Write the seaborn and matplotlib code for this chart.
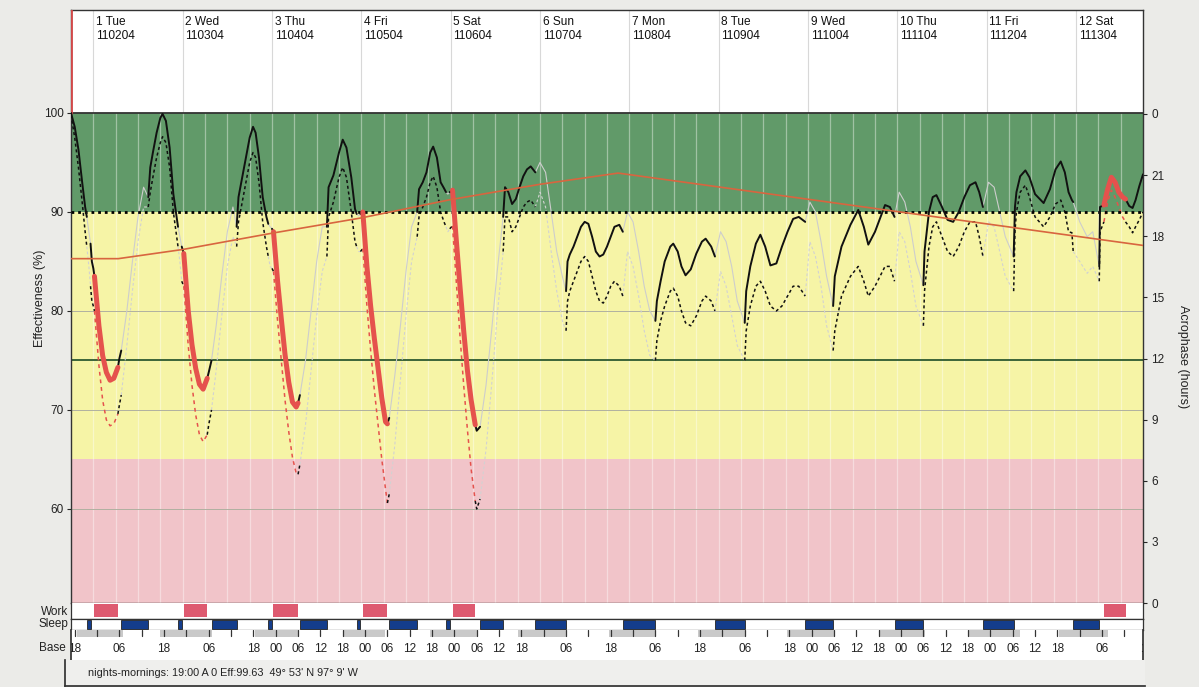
import numpy as np
import matplotlib
matplotlib.use("Agg")
import matplotlib.pyplot as plt
import seaborn as sns

sns.set_theme(style="white")
plt.rcParams['font.family'] = ['Liberation Sans', 'DejaVu Sans']

# ---------------- data ----------------
day_names = ["1 Tue", "2 Wed", "3 Thu", "4 Fri", "5 Sat", "6 Sun", "7 Mon",
             "8 Tue", "9 Wed", "10 Thu", "11 Fri", "12 Sat"]
day_codes = ["110204", "110304", "110404", "110504", "110604", "110704", "110804",
             "110904", "111004", "111104", "111204", "111304"]

hours = [
    -6, -5, -4, -3, -2.2, -1.75, -1.2, -0.75, -0.4, 0, 0.3, 1.5, 2.5, 3.5, 4.5, 5.5, 6.6, 7, 7.5, 9,
    10.5, 12, 13.5, 14.75, 15.3, 16, 17, 18, 18.6, 19.5, 20.5, 21.5, 22.75, 23.25, 23.75, 24.3,
    25.5, 26.5, 27.5, 28.5, 29.5, 30.6, 31, 31.75, 33, 34.5, 36, 37.5, 38.5, 39, 40, 41, 42, 42.9,
    43.6, 44.5, 45.5, 46.5, 47, 47.5, 48, 48.4,
    49.5, 50.5, 51.5, 52.5, 53.5, 54.5, 55, 55.5, 57, 58.5, 60, 61.5, 62.75, 63.2, 64.5, 66, 67, 68,
    69.3, 70.3, 70.75, 71.25, 71.75, 72.4,
    73.5, 74.5, 75.5, 76.5, 77.5, 78.5, 79, 79.5, 81, 82.5, 84, 85.5, 87, 87.5, 88.5, 89.5, 90.5,
    91.3, 92.3, 93.3, 94.2, 94.75, 95.25, 95.75, 96.5,
    97.5, 98.5, 99.5, 100.5, 101.5, 102.6, 103, 103.9, 105.5, 107, 108.5, 110.1, 110.6, 111.5,
    112.5, 113.5, 114.5, 115.5, 116.5, 117.5, 118.75,
    120, 121.5, 123, 124.5, 126, 127, 127.4, 128, 129, 130, 131, 132, 133, 134, 135, 136, 137, 138,
    139, 140, 141.3, 142.25,
    143.5, 145, 146.5, 148, 149.5, 151, 151.4, 152.4, 153.5, 155, 155.8, 157, 158, 159.1, 160.5,
    162, 163.5, 164.5, 166, 167,
    168.5, 170, 171.5, 173, 175, 175.4, 176.5, 178, 179.2, 180.5, 181.9, 183.5, 185, 186.5, 188,
    189.5, 191.25,
    192.5, 194, 195.5, 197, 198.75, 199.2, 201, 203.4, 205.5, 207, 208.2, 210, 212.7, 214, 215.25,
    216.5, 218, 219.5, 221, 223, 223.3, 224.5, 225.5, 226.5, 228, 229.5, 231, 232.5, 234, 235.5,
    237, 238, 239,
    240.5, 242, 243.5, 245, 247.25, 247.6, 248, 249, 250.4, 251.5, 253, 255.3, 257, 258.5, 259.9,
    261, 262, 262.9, 263.25,
    265, 267, 268.5, 270.25, 270.45, 271.5, 272.5, 273.5, 274.5, 275.5, 276.5, 277.3, 278.3, 279.2,
    280, 281, 282,
]
effectiveness = [
    100, 98.6, 96.3, 93, 90.5, 89.5, 88, 86.8, 85, 84.3, 83.5, 78.5, 75.5, 73.8, 73, 73.2, 74.3, 75.2, 76, 80,
    85, 89.5, 92.5, 91.5, 94.5, 96, 98, 99.5, 99.9, 99.2, 96.5, 91.8, 88.5, 87.5, 86.5, 85.8,
    80, 76.6, 74.2, 72.6, 72.1, 73.2, 73.8, 75, 78.5, 83.5, 88, 90.5, 88.5, 91.5, 93.5, 95.5, 97.5, 98.6,
    98, 95.5, 91.5, 89.5, 88.8, 88.5, 88.3, 88,
    83, 79.2, 75.6, 72.8, 70.8, 70.3, 70.7, 71.5, 75, 80, 85, 88.5, 88.5, 92.5, 93.7, 96, 97.3, 96.5,
    93.5, 90.3, 89.8, 89.6, 89.8, 90,
    84.5, 80.5, 77.2, 74.2, 71.2, 68.8, 68.6, 69.2, 73.5, 78.5, 84, 88.5, 90, 92.3, 93, 94, 96,
    96.6, 95.5, 93, 92.4, 92, 91.8, 92, 92.2,
    87.2, 82.5, 78, 74, 71, 68.5, 67.9, 68.3, 72.5, 78, 84, 89.5, 92.5, 92,
    90.8, 91.3, 92.5, 93.6, 94.3, 94.6, 94,
    95, 94, 90, 86, 83.5, 82, 85, 85.7, 86.5, 87.5, 88.5, 89, 88.8, 87.5, 86, 85.5, 85.7, 86.5,
    87.5, 88.5, 88.7, 88,
    90, 89, 86, 82.5, 80, 79, 81, 83, 85, 86.5, 86.8, 86, 84.5, 83.6, 84.2,
    85.8, 87, 87.3, 86.5, 85.5,
    88, 87, 84.5, 81, 78.8, 82, 84.5, 86.8, 87.7, 86.5, 84.6, 84.8, 86.5, 88, 89.3,
    89.5, 89,
    91, 90, 87, 83.5, 80.5, 83.5, 86.5, 88.7, 90.2, 88.5, 86.7, 88, 90.7, 90.5, 89.5,
    92, 91, 88.5, 85, 82.6, 86, 90, 91.5, 91.7, 90.5, 89.2, 89, 90, 91.5, 92.7,
    93, 92, 90.5,
    93, 92.5, 90, 87.5, 85.5, 90.5, 92, 93.6, 94.2, 93.5, 91.8, 90.9, 92.3, 94.3, 95.1,
    94, 92, 91.2, 91,
    89, 87.5, 88, 84.5, 90.5, 90.7, 92.3, 93.5, 93, 92, 91.5, 91.3, 90.6, 90.4,
    91.2, 92.6, 93.8,
]
lower_percentile = [
    99.8, 97.5, 94.5, 91, 88, 86.5, 84.5, 82.5, 81, 80.5, 80, 74.5, 71, 69, 68.4, 68.6, 69.6, 70.5, 71.5, 76.5,
    82, 87, 90.5, 90.5, 92, 93.5, 95.5, 97, 97.6, 97, 94.5, 90, 86.5, 85, 83, 82.5,
    76.5, 72.5, 69.5, 67.5, 66.8, 67.5, 68.5, 70, 74, 79.5, 84.5, 87.5, 86.5, 89, 91, 93, 95, 96,
    95.5, 93, 89, 86.5, 85.5, 84.5, 84.3, 84,
    79, 75, 71, 67.8, 65.2, 63.6, 63.5, 64.5, 68.5, 74, 79.5, 84, 85.5, 89.5, 91, 93.5, 94.5, 93.5,
    90, 87, 86.5, 86, 86, 86.3,
    80.5, 76, 72, 68.5, 65, 62, 60.6, 61.5, 66.5, 73, 79.5, 85, 87.5, 89.5, 90.5, 91.5, 93,
    93.6, 92.5, 90, 89, 88.5, 88, 88.3, 88.6,
    83, 77.5, 72.5, 68, 64, 60.8, 60, 61, 66, 72.5, 79.5, 86, 89.5, 89.5,
    88, 88.5, 89.5, 90.5, 91, 91.2, 90.5,
    92, 90.5, 86, 82, 79, 78, 81, 82, 83, 84, 85, 85.5, 85, 83.5, 82, 81, 80.8, 81.5,
    82.5, 83, 82.5, 81.5,
    86, 84.5, 81.5, 78, 75.5, 75, 77, 79, 80.5, 82, 82.3, 81.5, 80, 78.8, 78.5,
    79.5, 81, 81.5, 81, 80,
    84, 82.5, 79.5, 76.5, 75, 78, 80.5, 82.5, 83, 82, 80.5, 80, 80.5, 81.5, 82.5,
    82.5, 81.5,
    87, 85.5, 82.5, 78.5, 76, 78, 81.5, 83.5, 84.5, 83, 81.5, 82.5, 84.5, 84.5, 83,
    88, 87, 84, 80.5, 78.5, 82, 86.5, 88.5, 89, 87.5, 86, 85.5, 86.5, 88, 89,
    89, 87.5, 85.5,
    89, 88.5, 86, 83.5, 82, 88, 90, 92, 92.7, 91.5, 89.5, 88.5, 89.5, 90.8, 91.2,
    90, 88, 87.9, 86,
    85, 83.8, 84.5, 83, 88, 89, 91, 92.2, 91.5, 90.5, 89.5, 89, 88.5, 87.9,
    88.5, 89.2, 90,
]

work_start = [0.3, 24.3, 48.4, 72.4, 96.5, 271.5]
work_end = [6.6, 30.6, 55.0, 79.0, 102.6, 277.3]

sleep_start = [-1.75, 7.5, 22.75, 31.75, 47, 55.5, 70.75, 79.5, 94.75, 103.9, 118.75,
               142.25, 167, 191.25, 215.25, 239, 263.25]
sleep_end = [-0.75, 14.75, 23.75, 38.5, 48, 62.75, 71.75, 87, 95.75, 110.1, 127,
             151, 175, 198.75, 223, 247.25, 270.25]

dark_start = [-4.4, 17.9, 43.5, 67.1, 90.5, 114, 138.5, 162.5, 186.4, 211, 235, 259.3]
dark_end = [8.0, 31.9, 55.0, 78.4, 103.1, 127.3, 151.0, 175.1, 199.3, 223.5, 249, 272.7]

acro_hours = [-6, 6.7, 24, 48, 72, 96, 120, 141, 282]
acro_values = [16.9, 16.9, 17.35, 18.15, 18.9, 19.8, 20.55, 21.1, 17.55]

base_label_hours = [-6, 6, 18, 30, 42, 48, 54, 60, 66, 72, 78, 84, 90, 96, 102, 108, 114,
                    126, 138, 150, 162, 174, 186, 192, 198, 204, 210, 216, 222, 228, 234,
                    240, 246, 252, 258, 270, 282]
base_shift = 1.0  # base time zone offset (hours)

footer_text = "nights-mornings: 19:00 A 0 Eff:99.63  49\u00b0 53' N 97\u00b0 9' W"

# ---------------- layout ----------------
W, H = 1199, 687
XMIN, XMAX = -6, 282
YMIN, YMAX = 50.5, 110.4

def rect(x0, y0, x1, y1):
    return [x0 / W, 1 - y1 / H, (x1 - x0) / W, (y1 - y0) / H]

fig = plt.figure(figsize=(W / 100, H / 100), dpi=100)
fig.patch.set_facecolor('#ebebe8')

ax = fig.add_axes(rect(71, 10, 1143, 603))
ax_work = fig.add_axes(rect(71, 603, 1143, 619))
ax_sleep = fig.add_axes(rect(71, 619, 1143, 630))
ax_base = fig.add_axes(rect(71, 630, 1143, 660))
ax_foot = fig.add_axes(rect(65, 660, 1145, 686))

GREEN = '#619a69'
YELLOW = '#f6f4a6'
PINK = '#f1c4c9'
RED = '#e5524d'

# ---- main panel ----
ax.set_xlim(XMIN, XMAX)
ax.set_ylim(YMIN, YMAX)
ax.set_facecolor('white')
ax.axhspan(90, 100, color=GREEN, lw=0, zorder=0)
ax.axhspan(65, 90, color=YELLOW, lw=0, zorder=0)
ax.axhspan(YMIN, 65, color=PINK, lw=0, zorder=0)

for h in np.arange(0, XMAX, 6):
    ax.plot([h, h], [YMIN, 100], color='white', lw=0.9, alpha=0.4, zorder=1)
for h in np.arange(0, XMAX, 24):
    ax.plot([h, h], [100, YMAX], color='#d8d8d8', lw=0.8, zorder=1)
for v in [60, 70, 80]:
    ax.axhline(v, color='#b0b0a0', lw=0.7, zorder=1)
ax.axhline(75, color='#2d5a30', lw=1.3, zorder=2)
ax.axhline(100, color='#333333', lw=1.3, zorder=2)
ax.axhline(90, color='black', lw=2.0, linestyle=(0, (1, 1.4)), zorder=6)
ax.plot([XMIN, XMIN], [100, YMAX], color='#d24848', lw=2, zorder=3)

for i, (nm, cd) in enumerate(zip(day_names, day_codes)):
    ax.text(24 * i + 0.7, 109.8, f"{nm}\n{cd}", ha='left', va='top',
            fontsize=8.6, linespacing=1.2, color='#111111', zorder=5)

def state_at(t):
    for a, b in zip(work_start, work_end):
        if a <= t < b:
            return 'work'
    for a, b in zip(sleep_start, sleep_end):
        if a <= t < b:
            return 'sleep'
    return 'awake'

def segments(hh, vv):
    segs = []
    cur = None
    for i in range(len(hh) - 1):
        st = state_at(0.5 * (hh[i] + hh[i + 1]))
        if cur is None or cur[0] != st:
            cur = [st, [hh[i]], [vv[i]]]
            segs.append(cur)
        cur[1].append(hh[i + 1])
        cur[2].append(vv[i + 1])
    return segs

solid_style = {'work': dict(color=RED, linewidth=3.6, zorder=8),
               'sleep': dict(color='#cdcdcd', linewidth=0.8, zorder=4),
               'awake': dict(color='#111111', linewidth=1.4, zorder=7)}
dash_style = {'work': dict(color=RED, linewidth=1.1, zorder=5, linestyle=(0, (2.5, 2.5))),
              'sleep': dict(color='#d2d2d2', linewidth=0.8, zorder=4, linestyle=(0, (2.5, 2))),
              'awake': dict(color='#111111', linewidth=1.1, zorder=5, linestyle=(0, (2.0, 1.8)))}

for st, hx, vy in segments(hours, lower_percentile):
    sns.lineplot(x=hx, y=vy, ax=ax, sort=False, estimator=None, legend=False, **dash_style[st])
for st, hx, vy in segments(hours, effectiveness):
    sns.lineplot(x=hx, y=vy, ax=ax, sort=False, estimator=None, legend=False, **solid_style[st])

ax.set_yticks([60, 70, 80, 90, 100])
ax.set_yticklabels(['60', '70', '80', '90', '100'])
ax.set_xticks([])
ax.tick_params(axis='y', direction='out', length=3, width=0.8, pad=2, labelsize=8.5,
               labelcolor='#222222', left=True)
for s in ax.spines.values():
    s.set_color('#333333')
    s.set_linewidth(1.0)
ax.set_xlabel('')
ax.set_ylabel('')

ax2 = ax.twinx()
ax2.set_ylim(0, 24 * (603 - 10) / 489)
sns.lineplot(x=acro_hours, y=acro_values, ax=ax2, color='#d8653f', linewidth=1.2,
             sort=False, estimator=None, legend=False)
ax2.set_yticks(list(range(0, 25, 3)))
ax2.set_yticklabels([str(v % 24) for v in range(0, 25, 3)])
ax2.tick_params(axis='y', direction='out', length=3, width=0.8, pad=3, labelsize=8.5,
                labelcolor='#222222', right=True)
ax2.set_ylabel('')
ax2.grid(False)
for s in ax2.spines.values():
    s.set_visible(False)

fig.text(40 / W, 1 - 298 / H, 'Effectiveness (%)', rotation=90, ha='center', va='center',
         fontsize=9, color='#222222')
fig.text(1183 / W, 1 - 357 / H, 'Acrophase (hours)', rotation=270, ha='center', va='center',
         fontsize=9, color='#222222')

# ---- work row ----
for a in (ax_work, ax_sleep, ax_base):
    a.set_xlim(XMIN, XMAX)
    a.set_ylim(0, 1)
    a.set_xticks([])
    a.set_yticks([])
    a.set_facecolor('white')
for a, b in zip(work_start, work_end):
    ax_work.axvspan(a, b, ymin=0.1, ymax=0.95, color='#de5a70', lw=0)
for s in ax_work.spines.values():
    s.set_color('#333333')
    s.set_linewidth(0.9)
ax_work.spines['top'].set_visible(False)

# ---- sleep row ----
for a, b in zip(sleep_start, sleep_end):
    ax_sleep.axvspan(a, b, ymin=0.05, ymax=0.95, facecolor='#143d8c', edgecolor='#222222', lw=0.6)
for s in ax_sleep.spines.values():
    s.set_color('#333333')
    s.set_linewidth(0.9)

# ---- base row ----
for a, b in zip(dark_start, dark_end):
    ax_base.axvspan(a, b, ymin=0.78, ymax=1.0, color='#c9c9c9', lw=0)
tick_h = np.arange(-6 + base_shift, XMAX + 1, 6)
for t in tick_h:
    ax_base.plot([t, t], [1.0, 0.8], color='#333333', lw=0.9, clip_on=True)
for t in base_label_hours:
    lab = f"{t % 24:02d}"
    ax_base.text(t + base_shift, 0.38, lab, ha='center', va='center', fontsize=8.5,
                 color='#222222', clip_on=True)
for s in ax_base.spines.values():
    s.set_visible(False)
ax_base.spines['left'].set_visible(True)
ax_base.spines['left'].set_color('#333333')
ax_base.spines['right'].set_visible(True)
ax_base.spines['right'].set_color('#333333')

fig.text(68 / W, 1 - 612 / H, 'Work', ha='right', va='center', fontsize=8.5, color='#222222')
fig.text(68 / W, 1 - 624 / H, 'Sleep', ha='right', va='center', fontsize=8.5, color='#222222')
fig.text(66 / W, 1 - 648 / H, 'Base', ha='right', va='center', fontsize=8.5, color='#222222')

# ---- footer ----
ax_foot.set_xticks([])
ax_foot.set_yticks([])
ax_foot.set_facecolor('#efefed')
for k, s in ax_foot.spines.items():
    s.set_visible(k in ('left', 'bottom'))
    s.set_color('#333333')
ax_foot.text(0.021, 0.5, footer_text, ha='left', va='center', fontsize=7.8,
             color='#222222', transform=ax_foot.transAxes)

fig.savefig('out.png', dpi=100, facecolor=fig.get_facecolor())
